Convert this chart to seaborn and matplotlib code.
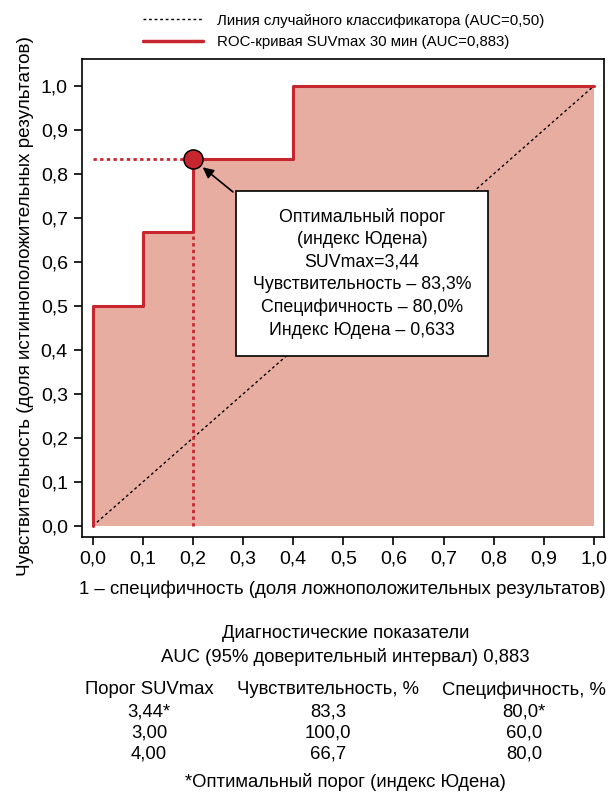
import matplotlib
matplotlib.use("Agg")
import matplotlib.pyplot as plt
import numpy as np
import pandas as pd
import seaborn as sns

# ROC points (1 - specificity, sensitivity)
fpr = [0.0, 0.0, 0.1, 0.1, 0.2, 0.2, 0.4, 0.4, 1.0]
tpr = [0.0, 0.5, 0.5, 0.667, 0.667, 0.833, 0.833, 1.0, 1.0]
chance_x = [0.0, 1.0]
chance_y = [0.0, 1.0]
optimal_point = (0.2, 0.833)

ticks = [0.0, 0.1, 0.2, 0.3, 0.4, 0.5, 0.6, 0.7, 0.8, 0.9, 1.0]
tick_labels = ["0,0", "0,1", "0,2", "0,3", "0,4", "0,5", "0,6", "0,7", "0,8", "0,9", "1,0"]

legend_labels = [
    "Линия случайного классификатора (AUC=0,50)",
    "ROC-кривая SUVmax 30 мин (AUC=0,883)",
]
box_text = ("Оптимальный порог\n(индекс Юдена)\nSUVmax=3,44\n"
            "Чувствительность – 83,3%\nСпецифичность – 80,0%\nИндекс Юдена – 0,633")

table_header = ["Порог SUVmax", "Чувствительность, %", "Специфичность, %"]
thresholds = ["3,44*", "3,00", "4,00"]
sensitivity = ["83,3", "100,0", "66,7"]
specificity = ["80,0*", "60,0", "80,0"]

RED = "#c8262e"
FILL = "#e8ada1"

sns.set_theme(style="ticks")
plt.rcParams["font.family"] = ["Liberation Sans", "DejaVu Sans"]
plt.rcParams["text.color"] = "black"
plt.rcParams["axes.labelcolor"] = "black"
plt.rcParams["xtick.color"] = "black"
plt.rcParams["ytick.color"] = "black"

roc_df = pd.DataFrame({"fpr": fpr, "tpr": tpr})

fig = plt.figure(figsize=(6.1, 7.99), dpi=100)
ax = fig.add_axes([0.134, 0.328, 0.856, 0.598])

ax.fill_between(fpr, tpr, 0, color=FILL, linewidth=0, zorder=1)
sns.lineplot(data=roc_df, x="fpr", y="tpr", sort=False, estimator=None,
             color=RED, linewidth=2.2, ax=ax, zorder=3)
sns.lineplot(x=chance_x, y=chance_y, color="black", linewidth=1,
             linestyle=(0, (2, 2)), ax=ax, zorder=2)

# optimal threshold guides
ax.plot([0, optimal_point[0]], [optimal_point[1]] * 2, color=RED,
        linestyle=(0, (1.2, 1.2)), linewidth=2, zorder=2)
ax.plot([optimal_point[0]] * 2, [0, optimal_point[1]], color=RED,
        linestyle=(0, (1.2, 1.2)), linewidth=2, zorder=2)
sns.scatterplot(x=[optimal_point[0]], y=[optimal_point[1]], s=190, color=RED,
                edgecolor="black", linewidth=1.1, ax=ax, zorder=5)

ax.annotate(box_text, xy=optimal_point, xytext=(0.537, 0.574),
            ha="center", va="center", fontsize=12.8, linespacing=1.42,
            bbox=dict(boxstyle="square,pad=0.95", fc="white", ec="black", lw=1.2),
            arrowprops=dict(arrowstyle="-|>", color="black", lw=1.2,
                            relpos=(0, 1), shrinkB=9, mutation_scale=16),
            zorder=6)

ax.set_xlim(-0.022, 1.02)
ax.set_ylim(-0.025, 1.061)
ax.set_xticks(ticks)
ax.set_xticklabels(tick_labels, fontsize=14)
ax.set_yticks(ticks)
ax.set_yticklabels(tick_labels, fontsize=14)
ax.tick_params(direction="out", length=6, width=1.2, color="black", pad=4)
for s in ax.spines.values():
    s.set_color("black")
    s.set_linewidth(1.2)
ax.set_xlabel("1 – специфичность (доля ложноположительных результатов)",
              fontsize=13.4, labelpad=9)
ax.set_ylabel("Чувствительность (доля истинноположительных результатов)",
              fontsize=13.6)
ax.yaxis.set_label_coords(-0.092, 0.483)

handles = [
    plt.Line2D([], [], color="black", linewidth=1, linestyle=(0, (2, 2))),
    plt.Line2D([], [], color=RED, linewidth=2.5),
]
fig.legend(handles, legend_labels, loc="upper left", bbox_to_anchor=(0.213, 1.0),
           frameon=False, fontsize=10.8, handlelength=4.0, handletextpad=0.9,
           labelspacing=0.5)

# diagnostic table under the chart
fs = 13.3
fig.text(0.566, 1 - 633 / 799, "Диагностические показатели", ha="center", va="center", fontsize=fs)
fig.text(0.566, 1 - 657 / 799, "AUC (95% доверительный интервал) 0,883", ha="center", va="center", fontsize=fs)
col_x = [149 / 610, 328 / 610, 524 / 610]
for cx, head in zip(col_x, table_header):
    fig.text(cx, 1 - 690 / 799, head, ha="center", va="center", fontsize=fs)
for i, row in enumerate(zip(thresholds, sensitivity, specificity)):
    y = 1 - (712 + 21 * i) / 799
    for cx, val in zip(col_x, row):
        fig.text(cx, y, val, ha="center", va="center", fontsize=fs)
fig.text(0.566, 1 - 782 / 799, "*Оптимальный порог (индекс Юдена)", ha="center", va="center", fontsize=fs)

fig.savefig("out.png", dpi=100, facecolor="white")
